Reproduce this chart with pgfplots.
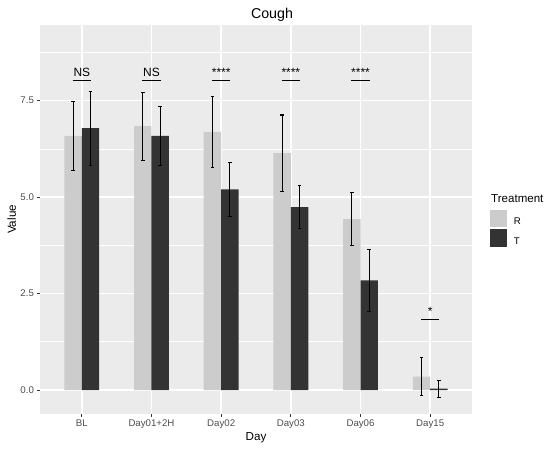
\documentclass[border=0pt]{standalone}
\usepackage{pgfplots}
\pgfplotsset{compat=1.18}
\usepackage{fontspec}
\setmainfont{Liberation Sans}
\definecolor{panelgray}{HTML}{EBEBEB}
\definecolor{rgray}{HTML}{CCCCCC}
\definecolor{tgray}{HTML}{333333}
\definecolor{gray30}{HTML}{4D4D4D}
\definecolor{gray20}{HTML}{333333}
\pgfplotsset{keylegend/.style={legend image code/.code={\fill[##1] (0bp,-5.2bp) rectangle (17.3bp,12.1bp);}}}
\begin{document}
\begin{tikzpicture}
\path[use as bounding box] (-40bp,-35bp) rectangle (510bp,414bp);
\begin{axis}[
  at={(0,0)}, anchor=south west,
  width=432bp, height=389bp, scale only axis,
  xmin=0.4, xmax=6.6, ymin=-0.622, ymax=9.463,
  xtick={1,2,3,4,5,6},
  xticklabels={BL,Day01+2H,Day02,Day03,Day06,Day15},
  ytick={0,2.5,5,7.5},
  minor ytick={1.25,3.75,6.25,8.75},
  minor x tick num=0,
  xmajorgrids, ymajorgrids, yminorgrids,
  major grid style={white, line width=1.4bp},
  minor grid style={white, line width=0.7bp},
  axis background/.style={fill=panelgray},
  axis line style={draw=none},
  tick align=outside,
  xtick pos=bottom, ytick pos=left,
  major tick length=2.6bp, minor tick length=0pt,
  tick style={gray20, line width=0.9bp},
  /pgf/number format/assume math mode=true,
  yticklabel style={/pgf/number format/.cd, fixed, fixed zerofill, precision=1},
  ticklabel style={font=\fontsize{9.7}{11}\selectfont, text=gray30},
  legend style={draw=none, fill=none, at={(1.0417,0.477)}, anchor=west,
    inner sep=0pt, outer sep=0pt, row sep=2bp,
    nodes={inner sep=0pt, font=\fontsize{9.7}{11}\selectfont}},
  legend cell align=left,
  clip=false,
]
\addplot[ybar, bar width=0.25, bar shift=0pt, fill=rgray, draw=none, keylegend,
  error bars/.cd, y dir=both, y explicit,
  error bar style={black, line width=1.15bp},
  error mark options={rotate=90, black, line width=1.1bp, mark size=1.8bp}]
coordinates {
  (0.875,6.59) +- (0,0.89)
  (1.875,6.84) +- (0,0.88)
  (2.875,6.69) +- (0,0.93)
  (3.875,6.14) +- (0,0.99)
  (4.875,4.43) +- (0,0.68)
  (5.875,0.35) +- (0,0.50)
};
\addlegendentry{\hspace{6.5bp}R}
\addplot[ybar, bar width=0.25, bar shift=0pt, fill=tgray, draw=none, keylegend,
  error bars/.cd, y dir=both, y explicit,
  error bar style={black, line width=1.15bp},
  error mark options={rotate=90, black, line width=1.1bp, mark size=1.8bp}]
coordinates {
  (1.125,6.79) +- (0,0.96)
  (2.125,6.59) +- (0,0.76)
  (3.125,5.20) +- (0,0.70)
  (4.125,4.74) +- (0,0.56)
  (5.125,2.84) +- (0,0.81)
  (6.125,0.035) +- (0,0.22)
};
\addlegendentry{\hspace{6.5bp}T}
% significance brackets
\addplot[black, line width=1bp, forget plot] coordinates {(0.87,8.02) (1.13,8.02)};
\addplot[black, line width=1bp, forget plot] coordinates {(1.87,8.02) (2.13,8.02)};
\addplot[black, line width=1bp, forget plot] coordinates {(2.87,8.02) (3.13,8.02)};
\addplot[black, line width=1bp, forget plot] coordinates {(3.87,8.02) (4.13,8.02)};
\addplot[black, line width=1bp, forget plot] coordinates {(4.87,8.02) (5.13,8.02)};
\addplot[black, line width=1bp, forget plot] coordinates {(5.87,1.82) (6.13,1.82)};
\node[anchor=base, inner sep=0pt, font=\fontsize{12}{14}\selectfont] at (axis cs:1,8.14) {NS};
\node[anchor=base, inner sep=0pt, font=\fontsize{12}{14}\selectfont] at (axis cs:2,8.14) {NS};
\node[anchor=base, inner sep=0pt, font=\fontsize{12}{14}\selectfont] at (axis cs:3,8.12) {****};
\node[anchor=base, inner sep=0pt, font=\fontsize{12}{14}\selectfont] at (axis cs:4,8.12) {****};
\node[anchor=base, inner sep=0pt, font=\fontsize{12}{14}\selectfont] at (axis cs:5,8.12) {****};
\node[anchor=base, inner sep=0pt, font=\fontsize{12}{14}\selectfont] at (axis cs:6,1.94) {*};
\end{axis}
\node[anchor=base, inner sep=0pt, font=\fontsize{14.3}{16}\selectfont] at (232bp,395.3bp) {Cough};
\node[anchor=base, inner sep=0pt, font=\fontsize{11.7}{14}\selectfont] at (216bp,-26.1bp) {Day};
\node[rotate=90, inner sep=0pt, font=\fontsize{11.7}{14}\selectfont] at (-28.3bp,194.5bp) {Value};
\node[anchor=base west, inner sep=0pt, font=\fontsize{11.6}{14}\selectfont] at (451bp,211.3bp) {Treatment};
\end{tikzpicture}
\end{document}
